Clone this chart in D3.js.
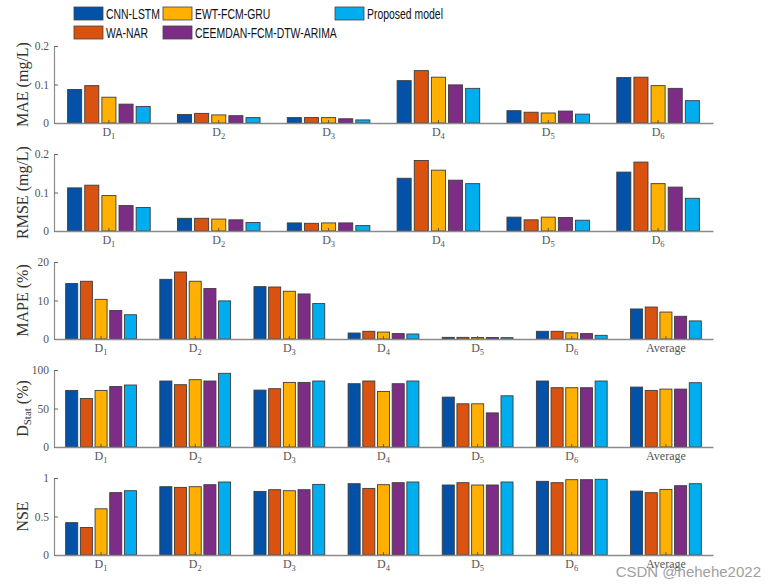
<!DOCTYPE html>
<html>
<head>
<meta charset="utf-8">
<script src="https://cdn.jsdelivr.net/npm/d3@7/dist/d3.min.js"></script>
<style>
  body { margin: 0; background: #fff; }
  svg { display: block; }
</style>
</head>
<body>
<svg width="776" height="587"></svg>
<script>
var models = ['CNN-LSTM', 'WA-NAR', 'EWT-FCM-GRU', 'CEEMDAN-FCM-DTW-ARIMA', 'Proposed model']
var colors = ['#0352a8', '#d9520f', '#ffb000', '#7e2d86', '#00aeef']

var sites6 = ['D1', 'D2', 'D3', 'D4', 'D5', 'D6']
var sites7 = ['D1', 'D2', 'D3', 'D4', 'D5', 'D6', 'Average']

// one row per site, one value per model
var maeVals = [
  [0.087, 0.097, 0.067, 0.049, 0.043],
  [0.022, 0.025, 0.021, 0.019, 0.014],
  [0.014, 0.014, 0.014, 0.011, 0.008],
  [0.110, 0.136, 0.119, 0.099, 0.090],
  [0.032, 0.028, 0.026, 0.031, 0.023],
  [0.118, 0.119, 0.097, 0.090, 0.058]
]
var rmseVals = [
  [0.112, 0.119, 0.092, 0.066, 0.061],
  [0.033, 0.033, 0.031, 0.029, 0.022],
  [0.021, 0.020, 0.021, 0.021, 0.014],
  [0.137, 0.183, 0.158, 0.132, 0.123],
  [0.036, 0.029, 0.036, 0.035, 0.028],
  [0.153, 0.179, 0.123, 0.114, 0.085]
]
var mapeVals = [
  [14.4, 15.0, 10.3, 7.4, 6.3],
  [15.5, 17.4, 15.0, 13.1, 9.9],
  [13.6, 13.5, 12.4, 11.7, 9.2],
  [1.55, 2.0, 1.8, 1.4, 1.3],
  [0.43, 0.43, 0.40, 0.40, 0.35],
  [2.0, 2.0, 1.6, 1.4, 0.95],
  [7.8, 8.3, 7.0, 5.9, 4.7]
]
var dstatVals = [
  [73.5, 63, 73.5, 78.5, 80.5],
  [85.7, 80.9, 87.4, 85.7, 95.7],
  [73.9, 75.7, 83.9, 83.9, 85.7],
  [82.2, 85.7, 72.2, 82.2, 85.7],
  [64.8, 56.1, 56.1, 44.3, 66.5],
  [85.7, 77, 77, 77, 85.7],
  [77.8, 73.5, 75.2, 75.2, 83.5]
]
var nseVals = [
  [0.42, 0.357, 0.60, 0.81, 0.835],
  [0.887, 0.878, 0.887, 0.913, 0.948],
  [0.826, 0.848, 0.835, 0.848, 0.917],
  [0.926, 0.865, 0.913, 0.939, 0.948],
  [0.909, 0.939, 0.909, 0.909, 0.948],
  [0.957, 0.939, 0.978, 0.978, 0.983],
  [0.83, 0.809, 0.852, 0.90, 0.926]
]

var maeTicks = [0, 0.1, 0.2]
var mapeTicks = [0, 10, 20]
var dstatTicks = [0, 50, 100]
var nseTicks = [0, 0.5, 1]

var panels = [
  { label: 'MAE (mg/L)', cats: sites6, vals: maeVals, ticks: maeTicks },
  { label: 'RMSE (mg/L)', cats: sites6, vals: rmseVals, ticks: maeTicks },
  { label: 'MAPE (%)', cats: sites7, vals: mapeVals, ticks: mapeTicks },
  { label: 'DSTAT', cats: sites7, vals: dstatVals, ticks: dstatTicks },
  { label: 'NSE', cats: sites7, vals: nseVals, ticks: nseTicks }
]

var svg = d3.select('svg')
var left = 54, right = 713, h = 77
var serif = 'Liberation Serif, Times New Roman, serif'

panels.forEach(function (p, k) {
  var top = 46 + k * 108
  var g = svg.append('g').attr('transform', 'translate(0,' + top + ')')

  var x = d3.scaleBand().domain(p.cats).range([left, right])
      .paddingInner(0.22).paddingOuter(0.11)
  var xi = d3.scaleBand().domain(d3.range(models.length)).range([0, x.bandwidth()])
      .paddingInner(0.18).paddingOuter(0.09)
  var y = d3.scaleLinear().domain([0, p.ticks[p.ticks.length - 1]]).range([h, 0])

  var groups = g.selectAll('g.grp')
      .data(p.vals)
      .enter()
      .append('g')
      .attr('class', 'grp')
      .attr('transform', function (d, i) { return 'translate(' + x(p.cats[i]) + ',0)' })

  groups.selectAll('rect')
      .data(function (d) { return d })
      .enter()
      .append('rect')
      .attr('x', function (d, i) { return xi(i) })
      .attr('width', xi.bandwidth())
      .attr('y', function (d) { return y(d) })
      .attr('height', function (d) { return h - y(d) })
      .style('fill', function (d, i) { return colors[i] })
      .style('stroke', '#3c3c3c')
      .style('stroke-width', 0.9)

  // y axis
  var ya = g.append('g')
      .attr('transform', 'translate(' + left + ',0)')
      .call(d3.axisLeft(y).tickValues(p.ticks).tickSize(-4).tickSizeOuter(0).tickPadding(5)
        .tickFormat(function (d) { return String(d) }))
  ya.select('.domain').style('stroke', '#8a8a8a').style('stroke-width', 1.2)
  ya.selectAll('.tick line').style('stroke', '#666')
  ya.selectAll('text').style('font-family', serif).style('font-size', '11.5px').style('fill', '#555')

  // x axis
  var xa = g.append('g')
      .attr('transform', 'translate(0,' + h + ')')
      .call(d3.axisBottom(x).tickSize(-3).tickSizeOuter(0).tickPadding(6))
  xa.select('.domain').style('stroke', '#8a8a8a').style('stroke-width', 1.4)
  xa.selectAll('.tick line').style('stroke', '#555')
  xa.selectAll('text')
      .attr('y', 13).attr('dy', null)
      .style('font-family', serif).style('font-size', '12px').style('fill', '#555')
      .each(function (d) {
        var t = d3.select(this).text('')
        if (d[0] === 'D') {
          t.append('tspan').text('D')
          t.append('tspan').attr('dy', 3).style('font-size', '8.5px').text(d.slice(1))
        } else {
          t.text(d)
        }
      })

  // y label
  var yl = g.append('text')
      .attr('transform', 'translate(22,' + (h / 2) + ') rotate(-90)')
      .attr('text-anchor', 'middle')
      .attr('dy', '0.35em')
      .style('font-family', serif).style('font-size', '16px').style('fill', '#333')
  if (p.label === 'DSTAT') {
    yl.append('tspan').text('D')
    yl.append('tspan').attr('dy', 3).style('font-size', '11px').text('Stat')
    yl.append('tspan').attr('dy', -3).text(' (%)')
  } else {
    yl.text(p.label)
  }
})

// legend, 3 columns filled column-wise
var legCol = [74, 163, 335]
var legRow = [7, 26]
var leg = svg.selectAll('g.leg')
    .data(models)
    .enter()
    .append('g')
    .attr('class', 'leg')
    .attr('transform', function (d, i) {
      return 'translate(' + legCol[Math.floor(i / 2)] + ',' + legRow[i % 2] + ')'
    })
leg.append('rect')
    .attr('width', 29).attr('height', 13)
    .style('fill', function (d, i) { return colors[i] })
    .style('stroke', '#444').style('stroke-width', 0.8)
leg.append('text')
    .attr('transform', 'translate(32,6.5) scale(0.72,1)')
    .attr('dy', '0.36em')
    .style('font-family', 'Liberation Sans, Arial, sans-serif')
    .style('font-size', '14.5px')
    .style('fill', '#111')
    .text(function (d) { return d })

svg.append('text')
    .attr('x', 761).attr('y', 577)
    .attr('text-anchor', 'end')
    .style('font-family', 'Liberation Sans, Arial, sans-serif')
    .style('font-size', '15px')
    .style('fill', '#a0a0a0')
    .text('CSDN @hehehe2022')
</script>
</body>
</html>
